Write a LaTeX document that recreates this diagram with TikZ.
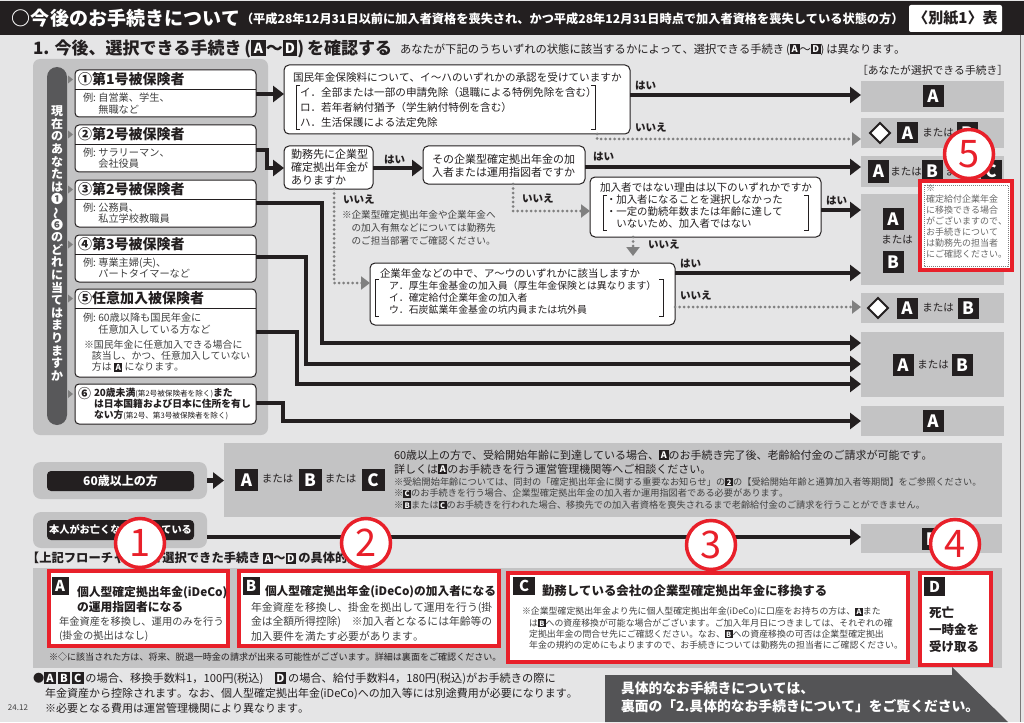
\documentclass[tikz,border=0pt]{standalone}
\usepackage{fontspec}
\setmainfont{Noto Sans CJK JP}[Kerning=Off]
\usetikzlibrary{arrows.meta,shapes.geometric}
\definecolor{bg}{HTML}{E5E5E6}
\definecolor{gp}{HTML}{C3C3C4}
\definecolor{dk}{HTML}{231F20}
\definecolor{pl}{HTML}{58585A}
\definecolor{rd}{HTML}{E8202A}
\definecolor{dt}{HTML}{808080}
\definecolor{tx}{HTML}{404040}
\definecolor{co}{HTML}{545456}
\newcommand\fs[2]{\fontsize{#1}{#2}\selectfont}
\newcommand\lbx[1]{{\setlength{\fboxsep}{0pt}\raisebox{-0.1em}{\colorbox{dk}{\rule{0pt}{0.9em}\makebox[0.86em]{\raisebox{0.12em}{\color{white}\bfseries\scalebox{0.82}{#1}}}}}}}
\newcommand\rb[6]{\node[#1,anchor=north west,minimum width={#5-#3},minimum height={#6-#4}] (#2) at (#3,#4) {};}
\newcommand\rei{例\makebox[0.5em][l]{:}}
\tikzset{
 every node/.style={inner sep=0pt,outer sep=0pt},
 arr/.style={draw=dk,line width=4.5pt,-{Triangle[length=11pt,width=16pt]}},
 darr/.style={draw=dt,line width=3pt,dash pattern=on 0pt off 4.5pt,line cap=round,-{Triangle[length=9pt,width=13pt]}},
 qbox/.style={draw=dk,line width=1pt,fill=white,rounded corners=5pt},
 cbox/.style={draw=dk,line width=1pt,fill=white,rounded corners=4pt},
 res/.style={fill=gp},
 lt/.style={fill=dk,text=white,font=\bfseries\fs{17}{17},minimum width=21pt,minimum height=22pt},
 st/.style={fill=dk,text=white,font=\bfseries\fs{15}{15},minimum width=17pt,minimum height=18pt},
 yes/.style={font=\bfseries\fs{10.5}{10.5},text=dk,anchor=west},
 mt/.style={font=\fs{10.5}{10.5},text=dk},
 card/.style={draw=rd,line width=3.5pt,fill=white},
 rc/.style={circle,draw=rd,line width=3.5pt,fill=white,minimum size=49pt,text=rd,font=\fs{38}{38}},
 brk/.style={draw=dk,line width=0.8pt},
 dia/.style={diamond,draw=dk,fill=white,line width=2pt,minimum width=20pt,minimum height=20pt},
 hd/.style={anchor=west,font=\bfseries\fs{14}{14},text=dk},
 cb/.style={anchor=west,font=\fs{10.2}{11.3},text=tx,align=left},
 tri/.style={fill=dt},
}
\begin{document}
\begin{tikzpicture}[x=1pt,y=-1pt]
\fill[bg] (0,0) rectangle (1024,722);
\useasboundingbox (0,0) rectangle (1024,722);
\fill[dk] (0,1.5) rectangle (1024,35);
\draw[dk!60,line width=0.8pt] (1020,35) -- (1020,722);
% title
\node[anchor=west,text=white,font=\bfseries\fs{19}{19}] (ttl) at (12,18.5) {○今後のお手続きについて};
\node[anchor=west,text=white,font=\bfseries\fs{12.2}{12.2}] (ttls) at (241,19) {（平成28年12月31日以前に加入者資格を喪失され、かつ平成28年12月31日時点で加入者資格を喪失している状態の方）};
\node[fill=white,rounded corners=2pt,minimum width=93pt,minimum height=27pt,font=\bfseries\fs{15}{15},text=dk] (bessi) at (955.5,18.5) {〈別紙1〉表};
\node[anchor=west,font=\bfseries\fs{17}{17},text=dk] (h1) at (33,48.5) {1. 今後、選択できる手続き\,(\lbx{A}～\lbx{D})\,を確認する};
\node[anchor=west,font=\fs{11.3}{11.3},text=dk] (h1s) at (400,49.5) {あなたが下記のうちいずれの状態に該当するかによって、選択できる手続き\,(\lbx{A}～\lbx{D})\,は異なります。};
% left panel
\rb{fill=gp,rounded corners=7pt}{lp}{33}{59}{268}{435}
\rb{fill=pl,rounded corners=10pt}{vp}{47}{67}{67}{425}
\node[align=center,text=white,font=\bfseries\fs{12}{12.6}] (vt) at (57,243.5) {現\\在\\の\\あ\\な\\た\\は\\❶\\\smash{\rotatebox[origin=c]{90}{～}}\\❻\\の\\ど\\れ\\に\\当\\て\\は\\ま\\り\\ま\\す\\か};
\foreach \yy in {79.5,134.5,189.5,244.5,298.5,394}{\fill[tri] (68,\yy-4) -- (73,\yy) -- (68,\yy+4) -- cycle;}
\rb{cbox}{c1}{75}{70}{256}{117}
\rb{cbox}{c2}{75}{125}{256}{172}
\rb{cbox}{c3}{75}{180}{256}{227}
\rb{cbox}{c4}{75}{235}{256}{282}
\rb{cbox}{c5}{75}{289}{256}{377}
\rb{cbox}{c6}{75}{384}{256}{424}
\draw[dk,line width=0.8pt] (c1.west |- 0,89) -- (c1.east |- 0,89);
\draw[dk,line width=0.8pt] (c2.west |- 0,144) -- (c2.east |- 0,144);
\draw[dk,line width=0.8pt] (c3.west |- 0,199) -- (c3.east |- 0,199);
\draw[dk,line width=0.8pt] (c4.west |- 0,254) -- (c4.east |- 0,254);
\draw[dk,line width=0.8pt] (c5.west |- 0,308) -- (c5.east |- 0,308);
\node[hd] (c1h) at (78,79.5) {①第1号被保険者};
\node[hd] (c2h) at (78,134.5) {②第2号被保険者};
\node[hd] (c3h) at (78,189.5) {③第2号被保険者};
\node[hd] (c4h) at (78,244.5) {④第3号被保険者};
\node[hd] (c5h) at (78,298.5) {⑤任意加入被保険者};
\node[hd,font=\bfseries\fs{13}{13}] (c6h) at (78,393.5) {⑥};
\node[cb] (c1b) at (83,103.5) {\rei 自営業、学生、\\\hspace*{1.5em}無職など};
\node[cb] (c2b) at (83,158) {\rei サラリーマン、\\\hspace*{1.5em}会社役員};
\node[cb] (c3b) at (83,213) {\rei 公務員、\\\hspace*{1.5em}私立学校教職員};
\node[cb] (c4b) at (83,268) {\rei 専業主婦(夫)、\\\hspace*{1.5em}パートタイマーなど};
\node[cb] (c5b) at (83,323.5) {\rei 60歳以降も国民年金に\\\hspace*{1.5em}任意加入している方など};
\node[cb,font=\fs{9.9}{11.3}] (c5n) at (84,356) {※国民年金に任意加入できる場合に\\\hspace*{0.8em}該当し、かつ、任意加入していない\\\hspace*{0.8em}方は \lbx{A} になります。};
\node[anchor=west,align=left,text=dk,font=\bfseries\fs{9.8}{10.6}] (c6b) at (94,404) {20歳未満{\mdseries\fs{7.6}{7.6}(第2号被保険者を除く)}また\\は日本国籍および日本に住所を有し\\ない方{\mdseries\fs{7.6}{7.6}(第2号、第3号被保険者を除く)}};
% question boxes
\rb{qbox}{q1}{284}{65}{630}{134}
\rb{qbox}{q2}{284}{146}{373}{189}
\rb{qbox}{q3}{423}{146}{585}{184}
\rb{qbox}{q4}{590}{177}{821}{237}
\rb{qbox}{q5}{370}{263}{675}{325}
\node[anchor=west,font=\fs{10.6}{15},text=dk] (q1t) at (293,77) {国民年金保険料について、イ～ハのいずれかの承認を受けていますか};
\node[anchor=west,font=\fs{10.6}{15},text=dk,align=left] (q1l) at (300,107.5) {イ．全部または一部の申請免除（退職による特例免除を含む）\\ロ．若年者納付猶予（学生納付特例を含む）\\ハ．生活保護による法定免除};
\draw[brk] (300,85) -- (296,85) -- (296,129) -- (300,129);
\draw[brk] (591,85) -- (595,85) -- (595,129) -- (591,129);
\node[anchor=west,font=\fs{11}{13},text=dk,align=left] (q2t) at (291,167.5) {勤務先に企業型\\確定拠出年金が\\ありますか};
\node[anchor=west,font=\fs{11}{13},text=dk,align=left] (q3t) at (432,166) {その企業型確定拠出年金の加\\入者または運用指図者ですか};
\node[anchor=west,font=\fs{10.6}{10.6},text=dk] (q4t) at (600,187) {加入者ではない理由は以下のいずれかですか};
\node[anchor=west,font=\fs{10.4}{12},text=dk,align=left] (q4l) at (606,212) {・加入者になることを選択しなかった\\・一定の勤続年数または年齢に達して\\\hspace*{1em}いないため、加入者ではない};
\draw[brk] (607,195) -- (603,195) -- (603,230) -- (607,230);
\draw[brk] (804,195) -- (808,195) -- (808,230) -- (804,230);
\node[anchor=west,font=\fs{10.4}{10.4},text=dk] (q5t) at (380,274) {企業年金などの中で、ア～ウのいずれかに該当しますか};
\node[anchor=west,font=\fs{9.9}{12.3},text=dk,align=left] (q5l) at (389,297.5) {ア．厚生年金基金の加入員（厚生年金保険とは異なります）\\イ．確定給付企業年金の加入者\\ウ．石炭鉱業年金基金の坑内員または坑外員};
\draw[brk] (379,279) -- (375,279) -- (375,316) -- (379,316);
\draw[brk] (659,279) -- (663,279) -- (663,316) -- (659,316);
\node[anchor=west,font=\fs{9.6}{13},text=tx,align=left] (note2) at (342,228) {※企業型確定拠出年金や企業年金へ\\\hspace*{1em}の加入有無などについては勤務先\\\hspace*{1em}のご担当部署でご確認ください。};
% labels
\node[yes] (y1) at (635,86) {はい};
\node[yes] (n1l) at (635,128) {いいえ};
\node[yes] (y2) at (384,160) {はい};
\node[yes] (n2l) at (343,200) {いいえ};
\node[yes] (y3) at (593,157) {はい};
\node[yes] (n3l) at (522,199) {いいえ};
\node[yes] (y4) at (826,201) {はい};
\node[yes] (n4l) at (648,245) {いいえ};
\node[yes] (y5) at (680,264) {はい};
\node[yes] (n5l) at (680,296) {いいえ};
% results
\node[anchor=west,font=\fs{10.8}{10.8},text=dk] (rh) at (857,70) {［あなたが選択できる手続き］};
\rb{res}{r1}{861}{81}{1004}{112}
\rb{res}{r2}{861}{118}{1004}{148}
\rb{res}{r3}{861}{156}{1004}{187}
\rb{res}{r4}{861}{194}{1004}{285}
\rb{res}{r5}{861}{293}{1004}{323}
\rb{res}{r6}{861}{332}{1004}{397}
\rb{res}{r7}{861}{406}{1004}{436}
\node[lt] (r1a) at (933,96.5) {A};
\node[dia] (r2d) at (880,133) {};
\node[lt,minimum height=21pt] (r2a) at (907.5,133) {A};
\node[mt] (r2m) at (938,133) {または};
\node[lt,minimum height=21pt] (r2b) at (967,133) {B};
\node[lt] (r3a) at (878.5,171.5) {A};
\node[mt] (r3m) at (906,172) {または};
\node[lt] (r3b) at (932,171.5) {B};
\node[mt] (r3m2) at (961,172) {または};
\node[lt] (r3c) at (991,171.5) {C};
\node[lt] (r4a) at (893,219) {A};
\node[mt] (r4m) at (897,240) {または};
\node[lt] (r4b) at (893,262) {B};
\node[dia] (r5d) at (878,308) {};
\node[lt,minimum height=21pt] (r5a) at (907,308) {A};
\node[mt] (r5m) at (938,308) {または};
\node[lt,minimum height=21pt] (r5b) at (968,308) {B};
\node[lt] (r6a) at (903,365) {A};
\node[mt] (r6m) at (933,365) {または};
\node[lt] (r6b) at (962,365) {B};
\node[lt] (r7a) at (933,421) {A};
% connectors
\draw[arr] (c1.east |- 0,94) -- (q1.west |- 0,94);
\draw[arr] (c2.east |- 0,150) -| (267,168) -- (q2.west |- 0,168);
\draw[arr] (c3.east |- 0,203) -| (322,343) -- (r6.west |- 0,343);
\draw[arr] (c4.east |- 0,257) -| (306,364) -- (r6.west |- 0,364);
\draw[arr] (c5.east |- 0,332) -| (297,384) -- (r6.west |- 0,384);
\draw[arr] (c6.east |- 0,403) -| (283,421) -- (r7.west |- 0,421);
\draw[arr] (q1.east |- 0,95) -- (r1.west |- 0,95);
\draw[darr] (q1.south -| 597,0) |- (r2.west |- 0,139);
\draw[arr] (q2.east |- 0,168) -- (q3.west |- 0,168);
\draw[arr] (q3.east |- 0,167) -- (r3.west |- 0,167);
\draw[darr] (q3.south -| 513,0) |- (q4.west |- 0,211);
\draw[darr] (q2.south -| 334,0) |- (q5.west |- 0,283);
\draw[arr] (q4.east |- 0,210) -- (r4.west |- 0,210);
\draw[darr,shorten >=7pt] (q4.south -| 633,0) -- (q5.north -| 633,0);
\draw[arr] (q5.east |- 0,273) -- (r4.west |- 0,273);
\draw[darr] (q5.east |- 0,307) -- (r5.west |- 0,307);
% note 5
\rb{draw=rd,line width=4pt,fill=white}{nt5}{920}{181}{1012}{270}
\draw[dt,line width=0.6pt,dash pattern=on 1pt off 1pt] (924,185) rectangle (1008,266);
\node[anchor=west,font=\fs{9}{11},text=dt!80!black,align=left] (nt5t) at (926,222) {※\\確定給付企業年金\\に移換できる場合\\がございますので、\\お手続きについて\\は勤務先の担当者\\にご確認ください。};
% 60 section
\rb{fill=gp,rounded corners=8pt}{p60}{33}{462}{207}{499}
\node[fill=dk,rounded corners=4pt,minimum width=147pt,minimum height=20pt,text=white,font=\bfseries\fs{12}{12}] (p60l) at (120.5,481) {60歳以上の方};
\rb{fill=gp}{g60}{224}{443}{1002}{517}
\draw[arr] (p60.east) -- (g60.west |- p60.east);
\node[lt,minimum width=23pt] (g60a) at (246.5,480) {A};
\node[mt] (g60m1) at (277.5,479) {または};
\node[lt,minimum width=23pt] (g60b) at (310,480) {B};
\node[mt] (g60m2) at (340.5,479) {または};
\node[lt,minimum width=23pt] (g60c) at (373,480) {C};
\node[anchor=west,font=\fs{11}{14},align=left,text=dk] (g60t) at (394,462) {60歳以上の方で、受給開始年齢に到達している場合、\lbx{A}のお手続き完了後、老齢給付金のご請求が可能です。\\詳しくは\lbx{A}のお手続きを行う運営管理機関等へご相談ください。};
\node[anchor=west,font=\fs{9.2}{11.5},align=left,text=tx] (g60n) at (394,493.5) {※受給開始年齢については、同封の「確定拠出年金に関する重要なお知らせ」の\lbx{2}の【受給開始年齢と通算加入者等期間】をご参照ください。\\※\lbx{C}のお手続きを行う場合、企業型確定拠出年金の加入者か運用指図者である必要があります。\\※\lbx{B}または\lbx{C}のお手続きを行われた場合、移換先での加入者資格を喪失されるまで老齢給付金のご請求を行うことができません。};
% deceased
\rb{fill=gp,rounded corners=8pt}{pd}{33}{512}{207}{548}
\node[fill=dk,rounded corners=4pt,minimum width=147pt,minimum height=20pt,text=white,font=\bfseries\fs{10.2}{10.2}] (pdl) at (120.5,530) {本人がお亡くなりになっている};
\rb{res}{rD}{861}{524}{1002}{553}
\node[lt] (rDd) at (932,539) {D};
\draw[arr] (pd.east |- 0,537) -- (rD.west |- 0,537);
% bottom heading and cards
\node[anchor=west,font=\bfseries\fs{12.3}{12.3},text=dk] (h2) at (27,558) {【上記フローチャートで選択できた手続き\,\lbx{A}～\lbx{D}\,の具体的内容】};
\rb{fill=gp}{band}{33}{568}{1002}{668}
\rb{card}{cA}{49}{571}{228}{646}
\rb{card}{cB}{239}{571}{499}{646}
\rb{card}{cC}{508}{573}{908}{662}
\rb{card}{cD}{920}{573}{991}{665}
\node[st] (cAl) at (60,586) {A};
\node[anchor=west,font=\bfseries\fs{11.8}{15},align=left,text=dk] (cAt) at (77,599.5) {個人型確定拠出年金(iDeCo)\\の運用指図者になる};
\node[anchor=west,font=\fs{10.3}{14},align=left,text=tx] (cAb) at (59,629) {年金資産を移換し、運用のみを行う\\(掛金の拠出はなし)};
\node[st] (cBl) at (251,586) {B};
\node[anchor=west,font=\bfseries\fs{11.7}{11.7},text=dk] (cBt) at (265,592) {個人型確定拠出年金(iDeCo)の加入者になる};
\node[anchor=west,font=\fs{10.8}{14.5},align=left,text=tx] (cBb) at (251,621.5) {年金資産を移換し、掛金を拠出して運用を行う(掛\\金は全額所得控除)\quad ※加入者となるには年齢等の\\加入要件を満たす必要があります。};
\node[st,minimum width=22pt] (cCl) at (524,586) {C};
\node[anchor=west,font=\bfseries\fs{12.4}{12.4},text=dk] (cCt) at (542,591) {勤務している会社の企業型確定拠出年金に移換する};
\node[anchor=west,font=\fs{8.9}{11.3},align=left,text=tx] (cCb) at (522,628.5) {※企業型確定拠出年金より先に個人型確定拠出年金(iDeCo)に口座をお持ちの方は、\lbx{A}また\\\hspace*{0.8em}は\lbx{B}への資産移換が可能な場合がございます。ご加入年月日につきましては、それぞれの確\\\hspace*{0.8em}定拠出年金の問合せ先にご確認ください。なお、\lbx{B}への資産移換の可否は企業型確定拠出\\\hspace*{0.8em}年金の規約の定めにもよりますので、お手続きについては勤務先の担当者にご確認ください。};
\node[st,minimum width=21pt,minimum height=19pt] (cDl) at (934.5,586.5) {D};
\node[anchor=west,font=\bfseries\fs{12.5}{17},align=left,text=dk] (cDt) at (929,630) {死亡\\一時金を\\受け取る};
\node[anchor=west,font=\fs{9.05}{9.05},text=dk] (bandn) at (49,657) {※◇に該当された方は、将来、脱退一時金の請求が出来る可能性がございます。詳細は裏面をご確認ください。};
% footer
\node[anchor=west,font=\fs{11.2}{15},text=dk] (f1) at (33,678) {●{\fs{13.5}{13.5}\lbx{A}\,\lbx{B}\,\lbx{C}}\,の場合、移換手数料1，100円(税込)\quad{\fs{13.5}{13.5}\lbx{D}}\,の場合、給付手数料4，180円(税込)がお手続きの際に};
\node[anchor=west,font=\fs{11}{15},align=left,text=dk] (f2) at (45,700.5) {年金資産から控除されます。なお、個人型確定拠出年金(iDeCo)への加入等には別途費用が必要になります。\\※必要となる費用は運営管理機関により異なります。};
\node[anchor=west,font=\fs{8}{8},text=tx] (ver) at (8,708) {24.12};
\fill[co] (605,675) -- (952,675) -- (952,667) -- (1008,722) -- (605,722) -- cycle;
\node[anchor=west,font=\bfseries\fs{13.8}{18},align=left,text=white] (cot) at (621,697) {具体的なお手続きについては、\\裏面の「2.具体的なお手続きについて」をご覧ください。};
% red circles
\node[rc] (k1) at (140,543) {1};
\node[rc] (k2) at (366,543) {2};
\node[rc] (k3) at (711,545) {3};
\node[rc] (k4) at (955,544) {4};
\node[rc] (k5) at (969,154) {5};
\end{tikzpicture}
\end{document}
